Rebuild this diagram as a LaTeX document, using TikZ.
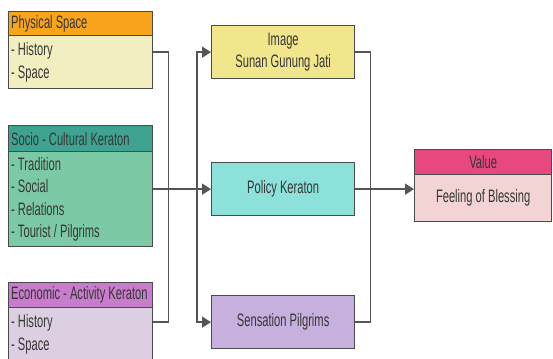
\documentclass[tikz,border=0pt]{standalone}
\usepackage{fontspec}
\setmainfont{Liberation Sans}[FakeStretch=0.62]
\usetikzlibrary{arrows.meta,calc}
\definecolor{phyhead}{HTML}{F8A51C}
\definecolor{phybody}{HTML}{F1EEC0}
\definecolor{sochead}{HTML}{3FA392}
\definecolor{socbody}{HTML}{7BC9A5}
\definecolor{ecohead}{HTML}{C77DCB}
\definecolor{ecobody}{HTML}{DCCFE2}
\definecolor{imgfill}{HTML}{F2E68C}
\definecolor{polfill}{HTML}{8CE1DA}
\definecolor{senfill}{HTML}{C7AFDE}
\definecolor{valhead}{HTML}{E6487F}
\definecolor{valbody}{HTML}{F3D4D4}
\definecolor{edgegray}{HTML}{4A4A4A}
\definecolor{wiregray}{HTML}{555555}
\definecolor{textgray}{HTML}{363636}

\begin{document}
\begin{tikzpicture}[
    x=1pt, y=-1pt,
    >={Triangle[length=9pt, width=11pt]},
    box/.style={draw=edgegray, line width=1.3pt, rectangle, anchor=north west,
      font=\fontsize{18}{22.5}\selectfont, text=textgray},
    head/.style={box, minimum height=24pt, inner ysep=0pt},
    leftbox/.style={box, text width=139pt, inner xsep=2.5pt, align=flush left},
    midbox/.style={box, minimum width=143pt, minimum height=53pt, align=center},
    wire/.style={wiregray, line width=1.5pt}
  ]
  \useasboundingbox (0,0) rectangle (553,358);

  % Left column
  \node[leftbox, head, fill=phyhead] (phyH) at (8,11) {Physical Space};
  \node[leftbox, fill=phybody, minimum height=53pt] (phyB) at (8,35) {- History\\- Space};
  \node[leftbox, head, fill=sochead, minimum height=26pt] (socH) at (8,125) {Socio - Cultural Keraton};
  \node[leftbox, fill=socbody, minimum height=95pt] (socB) at (8,151)
    {- Tradition\\- Social\\- Relations\\- Tourist / Pilgrims};
  \node[leftbox, head, fill=ecohead, minimum height=25pt] (ecoH) at (8,282) {Economic - Activity Keraton};
  \node[leftbox, fill=ecobody, minimum height=53pt] (ecoB) at (8,307) {- History\\- Space};

  % Middle column
  \node[midbox, fill=imgfill] (img) at (211,25) {Image\\Sunan Gunung Jati};
  \node[midbox, fill=polfill] (pol) at (211,162) {Policy Keraton};
  \node[midbox, fill=senfill] (sen) at (211,295) {Sensation Pilgrims};

  % Value
  \node[box, head, fill=valhead, minimum width=137pt, minimum height=25pt] (valH) at (414,149) {Value};
  \node[box, fill=valbody, minimum width=137pt, minimum height=47pt] (valB) at (414,174) {Feeling of Blessing};

  % Connectors
  \draw[wire] (phyB.east |- img.west) -- ++(15,0) |- (ecoB.east |- sen.west);
  \draw[wire, ->] (socB.east |- pol.west) -- (pol.west);
  \coordinate (mbus) at ($(pol.west)+(-14,0)$);
  \draw[wire, ->] (mbus) |- (img.west);
  \draw[wire, ->] (mbus) |- (sen.west);
  \draw[wire] (img.east) -- ++(15,0) |- (sen.east);
  \draw[wire, ->] (pol.east) -- (pol.east -| valB.west);
\end{tikzpicture}
\end{document}
